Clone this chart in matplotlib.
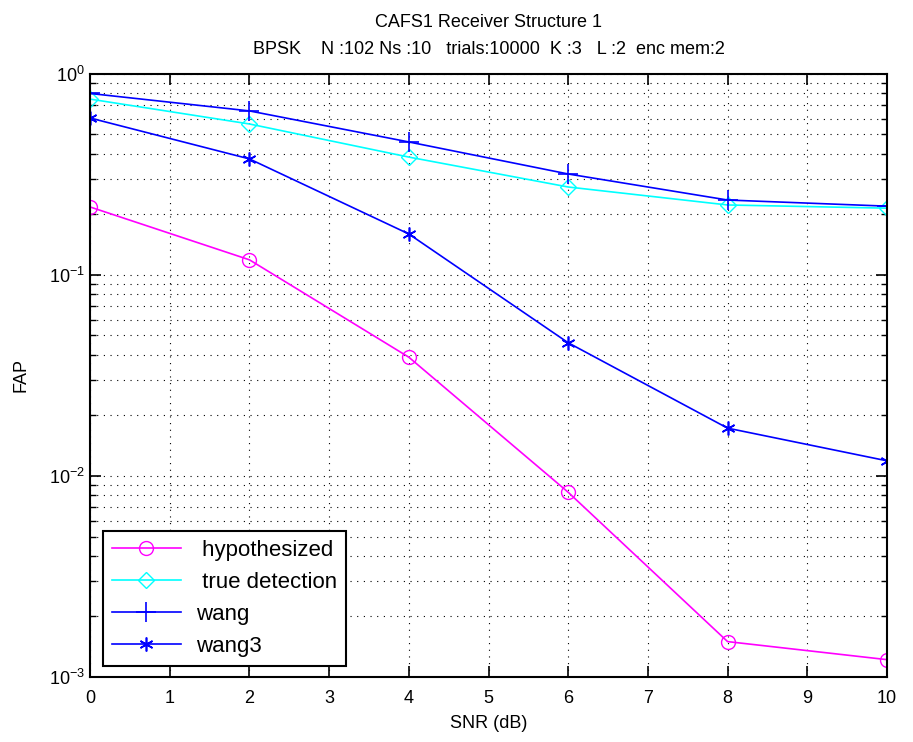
import numpy as np
import matplotlib.pyplot as plt
from matplotlib.ticker import LogLocator, NullFormatter

plt.rcParams['font.family'] = ['Liberation Sans', 'DejaVu Sans']

snr = [0, 2, 4, 6, 8, 10]
hypothesized = [0.218, 0.119, 0.039, 0.0083, 0.0015, 0.00122]
true_detection = [0.75, 0.564, 0.386, 0.274, 0.223, 0.215]
wang = [0.80, 0.655, 0.459, 0.318, 0.236, 0.220]
wang3 = [0.604, 0.378, 0.160, 0.046, 0.0173, 0.0119]

fig = plt.figure(figsize=(9.13, 7.42), dpi=100)
ax = fig.add_axes([0.0986, 0.0876, 0.8729, 0.8127])

ax.semilogy(snr, hypothesized, color='#ff00ff', marker='o', ms=10, mfc='none',
            lw=1.2, label=' hypothesized')
ax.semilogy(snr, true_detection, color='#00ffff', marker='D', ms=8, mfc='none',
            lw=1.2, label=' true detection')
ax.semilogy(snr, wang, color='#0000ff', marker='+', ms=14, mew=1.2,
            lw=1.2, label='wang')
ax.semilogy(snr, wang3, color='#0000ff', marker=(6, 2, 0), ms=10, mew=1.2,
            lw=1.2, label='wang3')

ax.set_xlim(0, 10)
ax.set_ylim(1e-3, 1)
ax.set_xticks(range(11))
ax.yaxis.set_major_locator(LogLocator(base=10, numticks=10))
ax.yaxis.set_minor_locator(LogLocator(base=10, subs=np.arange(2, 10), numticks=10))
ax.yaxis.set_minor_formatter(NullFormatter())

ax.grid(True, which='major', color='black', linestyle=(0, (1, 5)), lw=0.8)
ax.grid(True, which='minor', axis='y', color='black', linestyle=(0, (1, 5)), lw=0.8)

ax.tick_params(which='both', direction='in', top=True, right=True, labelsize=13)
ax.tick_params(axis='x', which='major', pad=9)
ax.tick_params(which='major', length=8, width=1.2)
ax.tick_params(which='minor', length=4, width=1)
for s in ax.spines.values():
    s.set_linewidth(1.5)

ax.set_xlabel('SNR (dB)', fontsize=13, labelpad=6)
ax.set_ylabel('FAP', fontsize=13, labelpad=14)
fig.text(0.535, 0.970, 'CAFS1 Receiver Structure 1', fontsize=13,
         ha='center', va='center')
fig.text(0.535, 0.933,
         'BPSK    N :102 Ns :10   trials:10000  K :3   L :2  enc mem:2',
         fontsize=13, ha='center', va='center')

leg = ax.legend(loc='lower left', bbox_to_anchor=(0.016, 0.018), fontsize=16,
                handlelength=3.1, fancybox=False, framealpha=1,
                edgecolor='black', borderpad=0.4, labelspacing=0.5,
                borderaxespad=0, handletextpad=0.7)
leg.get_frame().set_linewidth(1.5)

fig.savefig('out.png', dpi=100)
